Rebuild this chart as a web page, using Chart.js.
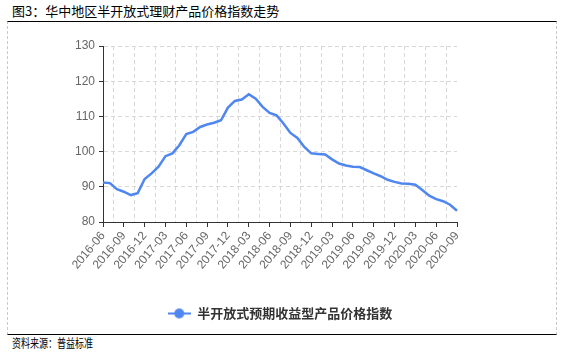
<!DOCTYPE html>
<html>
<head>
<meta charset="utf-8">
<script src="https://cdn.jsdelivr.net/npm/chart.js@4"></script>
<style>
  html, body { margin: 0; padding: 0; background: #fff; }
  body { width: 570px; height: 352px; position: relative; overflow: hidden; font-family: "Noto Sans CJK SC", sans-serif; }
  .title { position: absolute; left: 12px; top: 2px; font-size: 13px; line-height: 17px; color: #000; white-space: nowrap; }
  .frame { position: absolute; left: 7px; top: 21px; width: 548px; height: 312px;
           border-top: 1px solid #000; border-bottom: 1px solid #000;
           border-left: 1px dashed #c8c8c8; border-right: 1px dashed #c8c8c8; }
  .wrap { position: absolute; left: 7px; top: 22px; width: 548px; height: 312px; }
  .source { position: absolute; left: 12px; top: 335px; font-size: 12px; line-height: 16px; color: #000;
            white-space: nowrap; transform: scaleX(0.75); transform-origin: left top; }
</style>
</head>
<body>
<div class="title">图3：华中地区半开放式理财产品价格指数走势</div>
<div class="frame"></div>
<div class="wrap"><canvas id="lineChart" width="548" height="312"></canvas></div>
<div class="source">资料来源：普益标准</div>
<script>
// 月份(类别)
const months = [
    '2016-06', '2016-07', '2016-08', '2016-09', '2016-10', '2016-11', '2016-12',
    '2017-01', '2017-02', '2017-03', '2017-04', '2017-05', '2017-06', '2017-07',
    '2017-08', '2017-09', '2017-10', '2017-11', '2017-12', '2018-01', '2018-02',
    '2018-03', '2018-04', '2018-05', '2018-06', '2018-07', '2018-08', '2018-09',
    '2018-10', '2018-11', '2018-12', '2019-01', '2019-02', '2019-03', '2019-04',
    '2019-05', '2019-06', '2019-07', '2019-08', '2019-09', '2019-10', '2019-11',
    '2019-12', '2020-01', '2020-02', '2020-03', '2020-04', '2020-05', '2020-06',
    '2020-07', '2020-08', '2020-09'
];

// 半开放式预期收益型产品价格指数
const indexValues = [
    91.25, 91.05, 89.3, 88.6, 87.65, 88.2, 92.2,
    93.8, 95.7, 98.7, 99.5, 101.8, 105.0, 105.6,
    107.0, 107.7, 108.2, 108.9, 112.5, 114.4, 114.8,
    116.3, 115.0, 112.7, 111.0, 110.3, 108.0, 105.3,
    103.9, 101.3, 99.5, 99.35, 99.2, 97.8, 96.6,
    96.05, 95.7, 95.6, 94.7, 93.8, 93.0, 92.0,
    91.4, 90.95, 90.85, 90.6, 89.1, 87.5, 86.5,
    85.9, 84.9, 83.2
];

const seriesName = '半开放式预期收益型产品价格指数';
const yTicks = [80, 90, 100, 110, 120, 130];
const labelEvery = 3;

const lineColor = '#4F86EF';
const axisColor = '#333';
const gridColor = '#d8d8d8';
const labelColor = '#666';

// 图例标记: 线 + 圆点
const marker = document.createElement('canvas');
marker.width = 23;
marker.height = 12;
(() => {
    const c = marker.getContext('2d');
    c.strokeStyle = lineColor;
    c.lineWidth = 2;
    c.beginPath();
    c.moveTo(0, 6);
    c.lineTo(23, 6);
    c.stroke();
    c.fillStyle = lineColor;
    c.beginPath();
    c.arc(11.5, 6, 5, 0, Math.PI * 2);
    c.fill();
})();

const tickFont = { family: '"Liberation Sans", Arial, sans-serif', size: 12 };

new Chart(document.getElementById('lineChart').getContext('2d'), {
    type: 'line',
    data: {
        labels: months,
        datasets: [{
            label: seriesName,
            data: indexValues,
            borderColor: lineColor,
            backgroundColor: lineColor,
            borderWidth: 2.5,
            pointRadius: 0,
            tension: 0,
            fill: false
        }]
    },
    options: {
        responsive: false,
        animation: false,
        layout: { padding: { top: 24, left: 0, right: 98, bottom: 4 } },
        plugins: {
            tooltip: { enabled: false },
            legend: {
                position: 'bottom',
                fullSize: false,
                labels: {
                    usePointStyle: true,
                    pointStyle: marker,
                    pointStyleWidth: 23,
                    padding: 10,
                    color: '#333',
                    font: { family: '"Noto Sans CJK SC", sans-serif', size: 13, weight: 'bold' }
                }
            }
        },
        scales: {
            x: {
                type: 'category',
                offset: false,
                border: { color: axisColor, width: 1 },
                grid: { drawOnChartArea: false, drawTicks: true, tickLength: 5, tickColor: axisColor },
                ticks: {
                    autoSkip: false,
                    minRotation: 50,
                    maxRotation: 50,
                    padding: 2,
                    color: labelColor,
                    font: tickFont
                },
                afterBuildTicks: (scale) => {
                    scale.ticks = scale.ticks.filter(t => t.value % labelEvery === 0);
                },
                afterFit: (scale) => { scale.height = 75; }
            },
            xGrid: {
                type: 'linear',
                position: 'bottom',
                min: 0,
                max: months.length - 1,
                border: { display: false, dash: [4, 3] },
                grid: { color: gridColor, drawTicks: false },
                ticks: { display: false },
                afterBuildTicks: (scale) => {
                    const t = [];
                    for (let v = labelEvery / 2; v < months.length - 1; v += labelEvery) t.push({ value: v });
                    scale.ticks = t;
                },
                afterFit: (scale) => { scale.height = 0; }
            },
            y: {
                min: yTicks[0],
                max: yTicks[yTicks.length - 1],
                border: { color: axisColor, width: 1, dash: [4, 3] },
                grid: { color: gridColor, tickLength: 4, tickColor: axisColor },
                ticks: { stepSize: 10, padding: 4, color: labelColor, font: tickFont },
                afterBuildTicks: (scale) => {
                    scale.ticks = yTicks.map(v => ({ value: v }));
                },
                afterFit: (scale) => { scale.width = 96; }
            }
        }
    }
});
</script>
</body>
</html>
